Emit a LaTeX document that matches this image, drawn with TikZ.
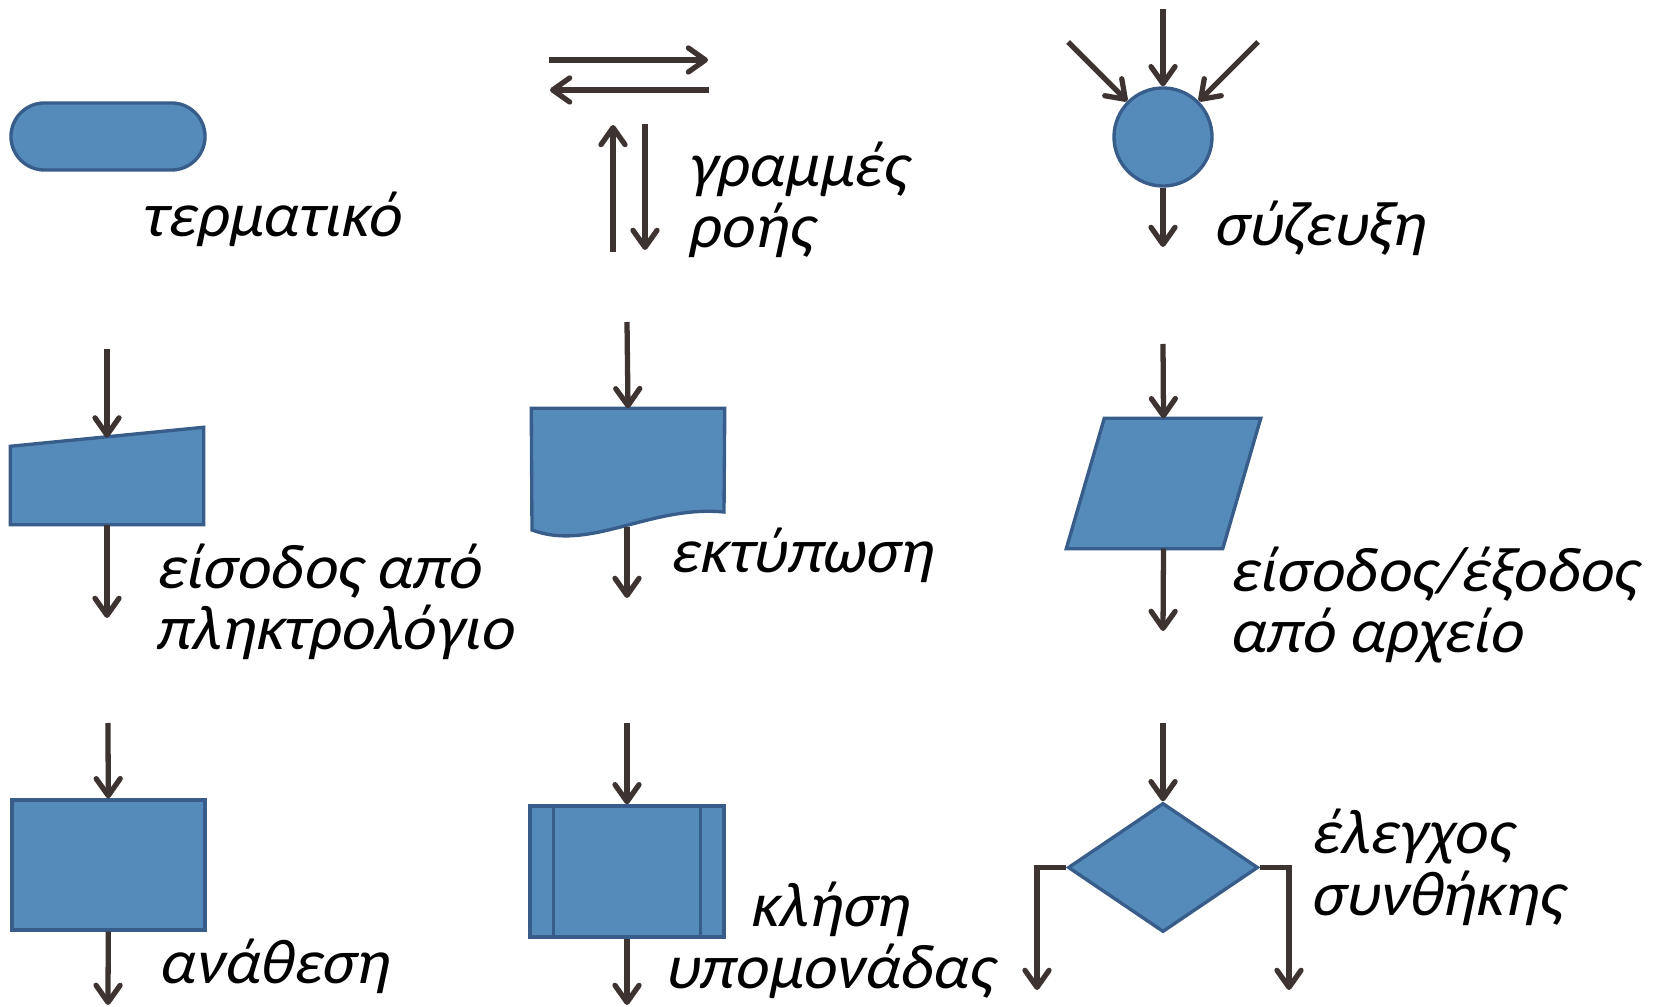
\documentclass[tikz,border=0pt]{standalone}
\usepackage{fontspec}
\setmainfont{Carlito}[ItalicFont={Carlito}, ItalicFeatures={FakeSlant=0.21}]
\usepackage{tikz}
\usetikzlibrary{arrows.meta}
\usetikzlibrary{shapes.geometric}
\usetikzlibrary{shapes.misc}
\usetikzlibrary{positioning}
\definecolor{symfill}{RGB}{84,139,186}
\definecolor{symline}{RGB}{56,93,138}
\definecolor{flowline}{RGB}{61,51,48}
\tikzstyle{symbol}=[draw=symline, fill=symfill, line width=0.95pt, inner sep=0pt]
\tikzstyle{ghost}=[inner sep=0pt]
\tikzstyle{flow}=[draw=flowline, line width=1.5pt, -{Straight Barb[length=1.7mm,width=2.4mm,round]}]
\tikzstyle{caption}=[font=\fontsize{18}{17.4}\selectfont\itshape, inner sep=0pt, anchor=base west, align=left]

\begin{document}
\begin{tikzpicture}[x=0.01cm, y=-0.01cm]
\useasboundingbox (0,0) rectangle (1658,1007);
% terminal
\node[symbol, rounded rectangle, minimum width=1.94cm, minimum height=0.67cm] (term) at (108,136.5){};
\node[caption] (termtxt) at (141,237){τερματικό};
% flow lines
\coordinate (fr0) at (549,60);
\coordinate (fr1) at (708,60);
\coordinate (fl0) at (709,90);
\coordinate (fl1) at (550,90);
\coordinate (fu0) at (613,252);
\coordinate (fu1) at (613,125);
\coordinate (fd0) at (645,124);
\coordinate (fd1) at (645,250);
\draw[flow](fr0) -- (fr1);
\draw[flow](fl0) -- (fl1);
\draw[flow](fu0) -- (fu1);
\draw[flow](fd0) -- (fd1);
\node[caption] (flowtxt) at (687,248){γραμμές\\ροής};
% junction
\node[symbol, circle, minimum size=0.98cm] (junc) at (1163,137){};
\coordinate (jtop) at (1163,9);
\coordinate (jleft) at (1068,42);
\coordinate (jright) at (1258,42);
\coordinate (jout) at (1163,247);
\draw[flow](jtop) -- (junc);
\draw[flow](jleft) -- (junc);
\draw[flow](jright) -- (junc);
\draw[flow](junc) -- (jout);
\node[caption] (junctxt) at (1213,246){σύζευξη};
% keyboard input
\node[ghost, minimum width=1.92cm, minimum height=0.96cm] (kbd) at (107,476){};
\draw[symbol] (kbd.south west) -- (kbd.south east) -- (kbd.north east) -- ([yshift=-0.19cm]kbd.north west) -- cycle;
\coordinate (kbdin) at (107,349);
\coordinate (kbdtop) at (107,437.5);
\coordinate (kbdout) at (107,618);
\draw[flow](kbdin) -- (kbdtop);
\draw[flow](kbd.south) -- (kbdout);
\node[caption] (kbdtxt) at (155,650){είσοδος από\\πληκτρολόγιο};
% printout
\node[ghost, minimum width=1.92cm, minimum height=1.21cm] (prt) at (628,469.5){};
\draw[symbol] (prt.north west) -- (prt.north east) -- (724,512) .. controls (650,505) and (590,552) .. (532,530) -- cycle;
\coordinate (prtin) at (627,322);
\coordinate (prtbot) at (627,527);
\coordinate (prtout) at (627,598);
\draw[flow](prtin) -- (prt.north);
\draw[flow](prtbot) -- (prtout);
\node[caption] (prttxt) at (669,573){εκτύπωση};
% file input/output
\node[ghost, minimum width=1.93cm, minimum height=1.29cm] (file) at (1163.5,483.5){};
\draw[symbol] (file.south west) -- ([xshift=0.38cm]file.north west) -- (file.north east) -- ([xshift=-0.38cm]file.south east) -- cycle;
\coordinate (filein) at (1163,344);
\coordinate (fileout) at (1163,631);
\draw[flow](filein) -- (file.north);
\draw[flow](file.south) -- (fileout);
\node[caption] (filetxt) at (1229,653){είσοδος/έξοδος\\από αρχείο};
% assignment
\node[symbol, rectangle, minimum width=1.93cm, minimum height=1.30cm] (asg) at (108.5,865){};
\coordinate (asgin) at (108,723);
\coordinate (asgout) at (108,1005);
\draw[flow](asgin) -- (asg);
\draw[flow](asg) -- (asgout);
\node[caption] (asgtxt) at (158,983){ανάθεση};
% subprogram call
\node[symbol, rectangle, minimum width=1.94cm, minimum height=1.31cm] (sub) at (627,871.5){};
\draw[draw=symline, line width=0.95pt] ([xshift=0.255cm]sub.north west) -- ([xshift=0.255cm]sub.south west);
\draw[draw=symline, line width=0.95pt] ([xshift=-0.25cm]sub.north east) -- ([xshift=-0.25cm]sub.south east);
\coordinate (subin) at (627,723);
\coordinate (subout) at (627,1005);
\draw[flow](subin) -- (sub);
\draw[flow](sub) -- (subout);
\node[caption, align=center, anchor=base] (subtxt) at (829,988){κλήση\\υπομονάδας};
% condition
\node[symbol, diamond, minimum width=1.90cm, minimum height=1.29cm] (cond) at (1163,867.5){};
\coordinate (condin) at (1163,723);
\coordinate (condl) at (1037,990);
\coordinate (condr) at (1289,990);
\draw[flow](condin) -- (cond);
\draw[flow](cond.west) -| (condl);
\draw[flow](cond.east) -| (condr);
\node[caption] (condtxt) at (1310,915){έλεγχος\\συνθήκης};
\end{tikzpicture}
\end{document}
